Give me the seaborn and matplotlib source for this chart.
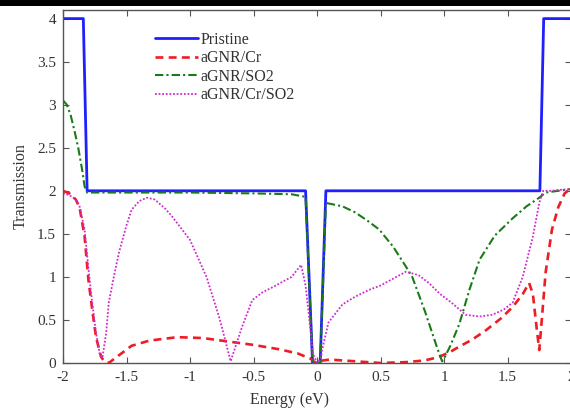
import numpy as np
import pandas as pd
import matplotlib
matplotlib.use("Agg")
import matplotlib.pyplot as plt
from matplotlib.patches import Rectangle
import seaborn as sns

# Transmission spectra of armchair graphene nanoribbon variants
pristine_e = [-2.0, -1.84, -1.81, -0.09, -0.035, 0.025, 0.07, 1.755, 1.785, 2.0]
pristine_t = [4.0, 4.0, 2.0, 2.0, 0.0, 0.0, 2.0, 2.0, 4.0, 4.0]

cr_e = [-2.0, -1.95, -1.90, -1.87, -1.83, -1.80, -1.77, -1.74, -1.70, -1.67,
        -1.64, -1.55, -1.46, -1.32, -1.10, -0.90, -0.70, -0.50, -0.30, -0.15,
        -0.05, -0.02, 0.05, 0.10, 0.30, 0.50, 0.70, 0.85, 0.96, 1.05,
        1.12, 1.22, 1.33, 1.45, 1.54, 1.62, 1.67, 1.70, 1.73, 1.75,
        1.77, 1.80, 1.85, 1.90, 1.95, 2.0]
cr_t = [2.0, 1.97, 1.90, 1.81, 1.47, 0.97, 0.62, 0.30, 0.07, 0.01,
        0.0, 0.10, 0.20, 0.26, 0.30, 0.29, 0.25, 0.21, 0.16, 0.11,
        0.05, 0.01, 0.03, 0.04, 0.02, 0.0, 0.01, 0.03, 0.07, 0.13,
        0.19, 0.27, 0.38, 0.52, 0.65, 0.80, 0.93, 0.80, 0.40, 0.15,
        0.50, 1.05, 1.55, 1.81, 1.97, 2.03]

so2_e = [-2.0, -1.97, -1.94, -1.91, -1.88, -1.85, -1.83, -1.81, -1.50, -1.00,
         -0.50, -0.20, -0.09, -0.035, 0.025, 0.07, 0.10, 0.20, 0.30, 0.40,
         0.49, 0.60, 0.70, 0.75, 0.80, 0.85, 0.90, 0.95, 0.985, 1.00,
         1.05, 1.12, 1.20, 1.28, 1.40, 1.54, 1.65, 1.75, 1.80, 1.90, 2.0]
so2_t = [3.05, 3.00, 2.88, 2.70, 2.50, 2.25, 2.05, 1.98, 1.98, 1.98,
         1.97, 1.96, 1.93, 0.0, 0.0, 1.86, 1.85, 1.82, 1.75, 1.65,
         1.55, 1.35, 1.12, 1.00, 0.80, 0.60, 0.38, 0.16, 0.02, 0.05,
         0.20, 0.45, 0.85, 1.20, 1.48, 1.68, 1.82, 1.92, 1.98, 2.00, 2.02]

crso2_e = [-2.0, -1.95, -1.90, -1.87, -1.83, -1.80, -1.77, -1.74, -1.71, -1.69,
           -1.66, -1.64, -1.60, -1.56, -1.50, -1.46, -1.40, -1.34, -1.28, -1.20,
           -1.14, -1.00, -0.87, -0.77, -0.72, -0.68, -0.64, -0.59, -0.51, -0.43,
           -0.35, -0.20, -0.125, -0.09, -0.06, -0.03, 0.0, 0.03, 0.04, 0.09,
           0.20, 0.30, 0.41, 0.50, 0.60, 0.70, 0.80, 0.88, 0.97, 1.06,
           1.17, 1.28, 1.38, 1.47, 1.54, 1.62, 1.70, 1.75, 1.78, 1.85,
           1.90, 2.0]
crso2_t = [1.97, 1.95, 1.90, 1.82, 1.55, 1.10, 0.70, 0.35, 0.10, 0.06,
           0.35, 0.70, 1.00, 1.28, 1.60, 1.78, 1.88, 1.92, 1.90, 1.80,
           1.70, 1.43, 1.00, 0.53, 0.25, 0.02, 0.20, 0.42, 0.73, 0.82,
           0.88, 1.00, 1.14, 0.90, 0.50, 0.10, 0.0, 0.05, 0.15, 0.47,
           0.68, 0.77, 0.85, 0.90, 0.98, 1.06, 1.02, 0.93, 0.80, 0.70,
           0.56, 0.54, 0.56, 0.62, 0.70, 1.00, 1.47, 1.86, 2.00, 2.00,
           2.01, 2.02]

labels = ["Pristine", "aGNR/Cr", "aGNR/SO2", "aGNR/Cr/SO2"]
x_ticks = [-2, -1.5, -1, -0.5, 0, 0.5, 1, 1.5, 2]
x_tick_labels = ["-2", "-1.5", "-1", "-0.5", "0", "0.5", "1", "1.5", "2"]
y_ticks = [0, 0.5, 1, 1.5, 2, 2.5, 3, 3.5, 4]
y_tick_labels = ["0", "0.5", "1", "1.5", "2", "2.5", "3", "3.5", "4"]

sns.set_style("ticks")
plt.rcParams["font.family"] = ["Liberation Serif", "DejaVu Serif"]
plt.rcParams["xtick.direction"] = "in"
plt.rcParams["ytick.direction"] = "in"

W, H = 570, 408
fig = plt.figure(figsize=(W / 100, H / 100), dpi=100)
ax_left, ax_right, ax_top, ax_bottom = 63, 571, 10, 363
ax = fig.add_axes([ax_left / W, 1 - ax_bottom / H,
                   (ax_right - ax_left) / W, (ax_bottom - ax_top) / H])

series = [
    (pristine_e, pristine_t, dict(color="#1f1fff", linewidth=2.0, linestyle="-")),
    (cr_e, cr_t, dict(color="#ee1c24", linewidth=1.9, linestyle=(0, (3, 2)))),
    (so2_e, so2_t, dict(color="#1a7a1a", linewidth=1.5, linestyle=(0, (4, 1.5, 1, 1.5)))),
    (crso2_e, crso2_t, dict(color="#d02ad0", linewidth=1.3, linestyle=(0, (1, 1)))),
]
for (e, t, style), name in zip(series, labels):
    df = pd.DataFrame({"Energy": e, "T": t})
    sns.lineplot(data=df, x="Energy", y="T", ax=ax, sort=False, estimator=None,
                 label=name, **style)

ax.set_xlim(-2, 2)
ax.set_ylim(0, 4.1)
ax.set_xticks(x_ticks)
ax.set_xticklabels(x_tick_labels)
ax.set_yticks(y_ticks)
ax.set_yticklabels(y_tick_labels)
ax.tick_params(axis="both", which="both", top=True, right=True, length=4,
               width=0.8, color="#555555", labelsize=11, labelcolor="#333333")
ax.tick_params(axis="x", pad=6)
ax.tick_params(axis="y", pad=5)
for sp in ax.spines.values():
    sp.set_color("#555555")
    sp.set_linewidth(1.0)

ax.set_xlabel("Energy (eV)", fontsize=11.5, color="#333333")
ax.xaxis.label.set_verticalalignment("center")
ax.xaxis.set_label_coords((290 - ax_left) / (ax_right - ax_left),
                          -(400 - ax_bottom) / (ax_bottom - ax_top))
ax.set_ylabel("Transmission", fontsize=11.5, color="#333333", labelpad=6)

leg = ax.legend(loc="upper left", bbox_to_anchor=(155 / W, 1 - 32 / H),
                bbox_transform=fig.transFigure, frameon=False, fontsize=11.5,
                handlelength=2.7, handletextpad=0.15, labelspacing=0.15,
                borderpad=0, borderaxespad=0)
for txt in leg.get_texts():
    txt.set_color("#333333")

# dark strip along the top edge
fig.patches.append(Rectangle((0, 1 - 6 / H), 1, 6 / H, transform=fig.transFigure,
                             facecolor="black", edgecolor="none", zorder=10))

fig.savefig("out.png", dpi=100)
